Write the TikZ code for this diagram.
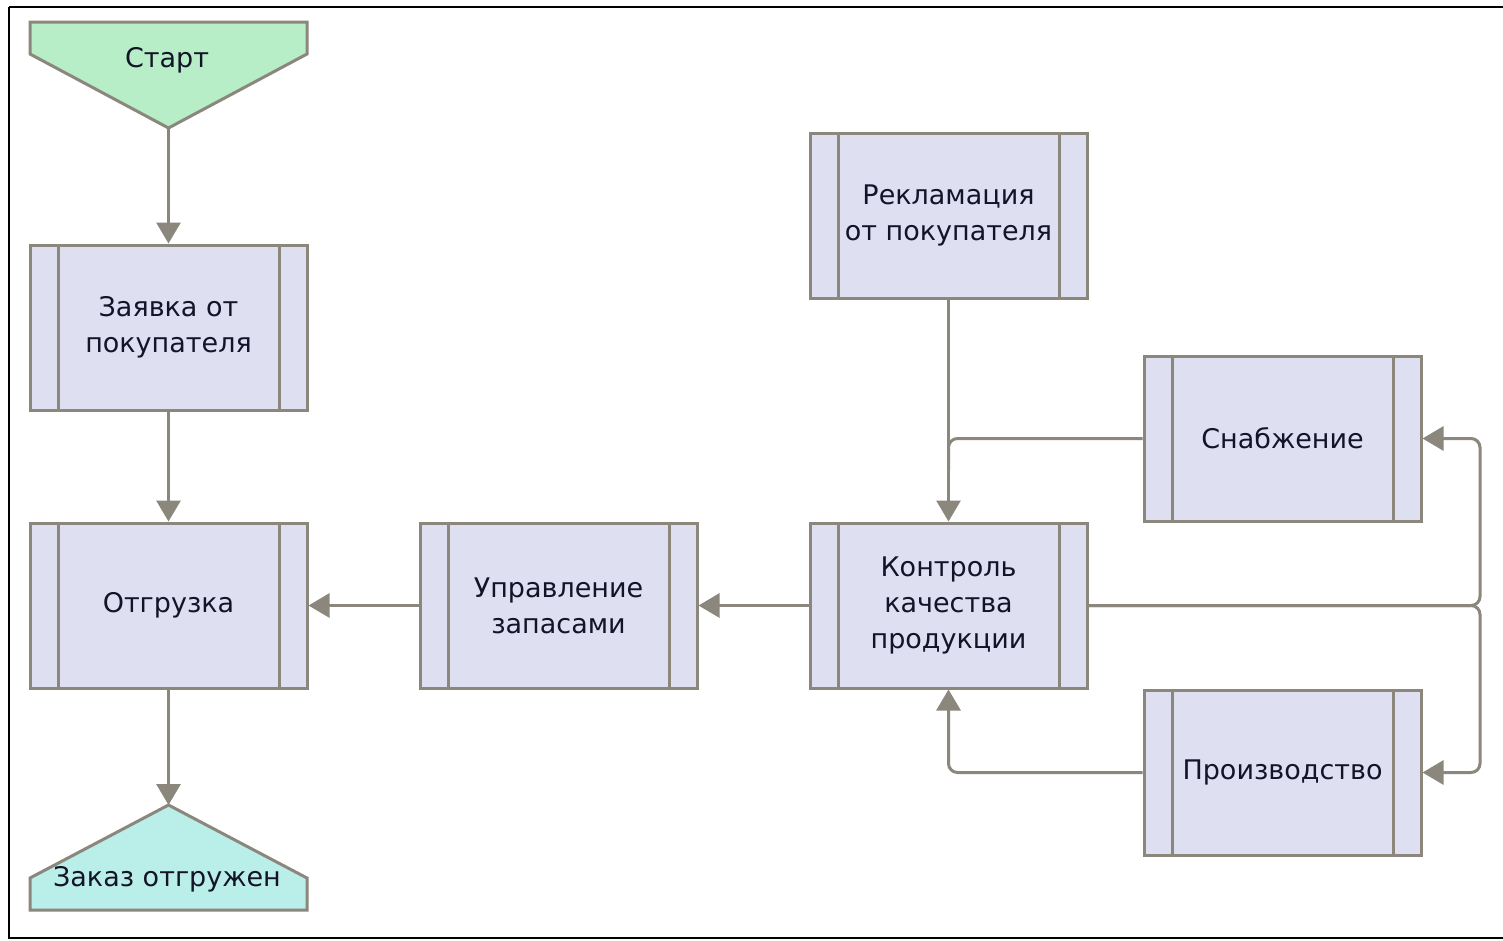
\documentclass[tikz,border=0pt]{standalone}
\usepackage{fontspec}
\setmainfont{DejaVu Sans}
\usetikzlibrary{arrows.meta}
\definecolor{linec}{RGB}{140,135,124}
\definecolor{boxfill}{RGB}{222,223,241}
\definecolor{startfill}{RGB}{183,237,199}
\definecolor{endfill}{RGB}{186,238,233}
\definecolor{textc}{RGB}{20,20,40}
\tikzset{
  proc/.style={draw=linec, line width=3pt, fill=boxfill, minimum width=277pt, minimum height=165pt,
    inner sep=0pt, align=center, text=textc, font=\fontsize{27}{36}\selectfont,
    path picture={
      \draw[linec, line width=3pt] ([xshift=28pt]path picture bounding box.north west) -- ([xshift=28pt]path picture bounding box.south west);
      \draw[linec, line width=3pt] ([xshift=-28pt]path picture bounding box.north east) -- ([xshift=-28pt]path picture bounding box.south east);
    }},
  term/.style={draw=linec, line width=3pt, line join=miter},
  lbl/.style={text=textc, font=\fontsize{27}{36}\selectfont, inner sep=0pt},
  conn/.style={draw=linec, line width=3pt, -{Triangle[width=24pt,length=21pt]}},
  connr/.style={conn, rounded corners=9pt},
  plain/.style={draw=linec, line width=3pt, rounded corners=9pt},
}
\begin{document}
\begin{tikzpicture}[x=1pt,y=-1pt]
\useasboundingbox (0,0) rectangle (1503,940);
\fill[white] (0,0) rectangle (1503,940);
\draw[black, line width=2.5pt] (9,7) -- (1510,7);
\draw[black, line width=2.5pt] (9,7) -- (9,938) -- (1510,938);

% start terminal
\draw[term, fill=startfill] (30,22) -- (307,22) -- (307,54) -- (168.5,128) -- (30,54) -- cycle;
\coordinate (startapex) at (168.5,128);
\node[lbl] (start) at (167,60) {Старт};

% end terminal
\draw[term, fill=endfill] (30,910) -- (307,910) -- (307,878) -- (168.5,805) -- (30,878) -- cycle;
\coordinate (endapex) at (168.5,805);
\node[lbl] (end) at (167,879) {Заказ отгружен};

% process boxes
\node[proc] (zayavka) at (168.5,327.5) {Заявка от\\покупателя};
\node[proc] (otgr) at (168.5,605.5) {Отгрузка};
\node[proc] (upr) at (558.5,605.5) {Управление\\запасами};
\node[proc] (kontr) at (948.5,605.5) {Контроль\\качества\\продукции};
\node[proc] (rekl) at (948.5,215.5) {Рекламация\\от покупателя};
\node[proc] (snab) at (1282.5,438.5) {Снабжение};
\node[proc] (proizv) at (1282.5,772.5) {Производство};

\coordinate (rjoin) at (1480,605.5);
\coordinate (sjoin) at (948.5,470);

% connectors
\draw[conn] (startapex) -- (zayavka.north);
\draw[conn] (zayavka.south) -- (otgr.north);
\draw[conn] (otgr.south) -- (endapex);
\draw[conn] (upr.west) -- (otgr.east);
\draw[conn] (kontr.west) -- (upr.east);
\draw[conn] (rekl.south) -- (kontr.north);
\draw[plain] (snab.west) -| (sjoin);
\draw[connr] (proizv.west) -| (kontr.south);
\draw[connr] (kontr.east) -- (rjoin) |- (snab.east);
\draw[connr] (kontr.east) -- (rjoin) |- (proizv.east);
\end{tikzpicture}
\end{document}
